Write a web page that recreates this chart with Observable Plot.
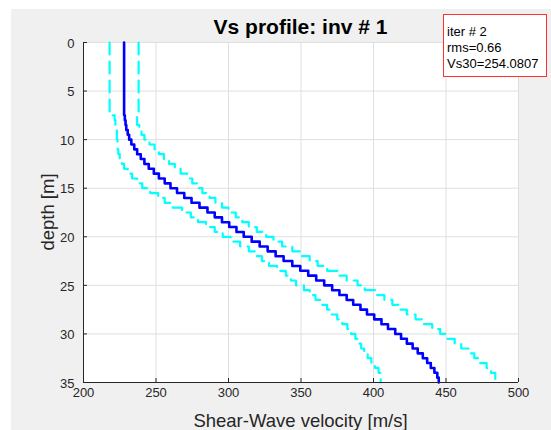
<!DOCTYPE html>
<html><head><meta charset="utf-8">
<script src="https://cdn.jsdelivr.net/npm/d3@7"></script>
<script src="https://cdn.jsdelivr.net/npm/@observablehq/plot@0.6"></script>
<style>
html,body{margin:0;padding:0;background:#fff;}
#fig{position:absolute;left:11px;top:9px;width:540px;height:421px;background:#f0f0f0;}
#chart{position:absolute;left:0;top:0;}
</style></head><body>
<div id="fig"></div><div id="chart"></div>
<script>
// layer tops (m)
const depthTop = [0,7.5,8,8.5,9,9.5,10,10.5,11,11.5,12,12.5,13,13.5,14,14.5,15,15.5,16,16.5,17,17.5,18,18.5,19,19.5,20,20.5,21,21.5,22,22.5,23,23.5,24,24.5,25,25.5,26,26.5,27,27.5,28,28.5,29,29.5,30,30.5,31,31.5,32,32.5,33,33.5,34,34.5];
const maxDepth = 35;
// best Vs profile (solid blue)
const vsBest = [228,228.5,229,229.5,230.5,231.5,233,235,237,239.5,242,245,248.5,252,256,260,264.5,269.5,274.5,280,285.5,290.5,295.5,300.5,305.5,310.5,316,321.5,327,332.5,338,344,349.5,355,360.5,366,371.5,376.5,381.5,386,391,395.5,400.5,405.5,410,415,419,423,427,430.5,434,437,439.5,442,444,445];
// lower bound (dashed cyan)
const vsLower = [218,221.5,222,222.5,223,223,223.5,223.5,224,225,226.5,228,230.5,233.5,237,240.5,246,251.5,256,261.5,268,274,279,284.5,290.5,296,301.5,308,314,318.5,323,328,333.5,339.5,343,346.5,352,356,360,363.5,368,371,375,378.5,382,384.5,387.5,389.5,391.5,393.5,396,398.5,401,403.5,405,405];
// upper bound (dashed cyan)
const vsUpper = [238,237,237,238.5,240,242,245.5,249,252,255.5,259,263,267,271.5,275,278.5,282,287,291,295.5,300,305,309.5,314,319.5,326,331,337,344,349.5,356,361.5,368,375.5,381.5,389,394,401,407.5,413,418,423,429,434.5,440.5,446,451,456,460.5,465.5,469.5,473.5,478,481,484,484];

const xTicks = [200,250,300,350,400,450,500];
const yTicks = [0,5,10,15,20,25,30,35];
const titleText = "Vs profile: inv # 1";
const xLabel = "Shear-Wave velocity [m/s]";
const yLabel = "depth [m]";
const legendLines = ["iter # 2","rms=0.66","Vs30=254.0807"];

function steps(values){
  const pts=[];
  depthTop.forEach((d,i)=>{
    const b = i+1<depthTop.length ? depthTop[i+1] : maxDepth;
    pts.push({vs:values[i], depth:d});
    pts.push({vs:values[i], depth:b});
  });
  return pts;
}

const font = "'Liberation Sans', Arial, Helvetica, sans-serif";
const axisColor = "#262626";
const plot = Plot.plot({
  width:551, height:430, marginLeft:83, marginRight:33, marginTop:42, marginBottom:48,
  style:{background:"transparent", fontFamily:font, fontSize:"13px", color:axisColor},
  x:{domain:[200,500]},
  y:{domain:[0,35], reverse:true},
  marks:[
    Plot.frame({fill:"white", stroke:"none"}),
    Plot.ruleX(xTicks, {stroke:"#dfdfdf", strokeWidth:1}),
    Plot.ruleY(yTicks, {stroke:"#dfdfdf", strokeWidth:1}),
    Plot.line(steps(vsLower), {x:"vs", y:"depth", stroke:"#00ffff", strokeWidth:2.2, strokeDasharray:"12,7", curve:"linear"}),
    Plot.line(steps(vsUpper), {x:"vs", y:"depth", stroke:"#00ffff", strokeWidth:2.2, strokeDasharray:"12,7", curve:"linear"}),
    Plot.line(steps(vsBest), {x:"vs", y:"depth", stroke:"#0000ff", strokeWidth:2.6, curve:"linear"}),
    Plot.ruleX([200], {stroke:axisColor}),
    Plot.ruleY([35], {stroke:axisColor}),
    Plot.ruleX(xTicks, {stroke:axisColor, insetTop:336}),
    Plot.ruleY(yTicks, {stroke:axisColor, insetRight:431}),
    Plot.axisX({ticks:xTicks, tickSize:0, tickPadding:5, label:null, fontSize:13}),
    Plot.axisY({ticks:yTicks, tickSize:0, tickPadding:9, label:null, fontSize:13, dy:1})
  ]
});
document.getElementById("chart").appendChild(plot);

const svg = d3.select(plot);
svg.append("text").attr("x",300.5).attr("y",34).attr("text-anchor","middle")
  .attr("font-size",21).attr("font-weight","bold").attr("fill","#000").text(titleText);
svg.append("text").attr("x",300.5).attr("y",427).attr("text-anchor","middle")
  .attr("font-size",18.5).attr("fill",axisColor).text(xLabel);
svg.append("text").attr("transform","translate(54,212) rotate(-90)").attr("text-anchor","middle")
  .attr("font-size",18.5).attr("fill",axisColor).text(yLabel);
const lg = svg.append("g").attr("text-anchor","start");
lg.append("rect").attr("x",443.5).attr("y",14.5).attr("width",103).attr("height",62)
  .attr("fill","white").attr("stroke","#ff3030");
legendLines.forEach((t,i)=> lg.append("text").attr("x",447).attr("y",36+i*16)
  .attr("text-anchor","start").attr("font-size",13).attr("fill","#000").text(t));
</script>
</body></html>
